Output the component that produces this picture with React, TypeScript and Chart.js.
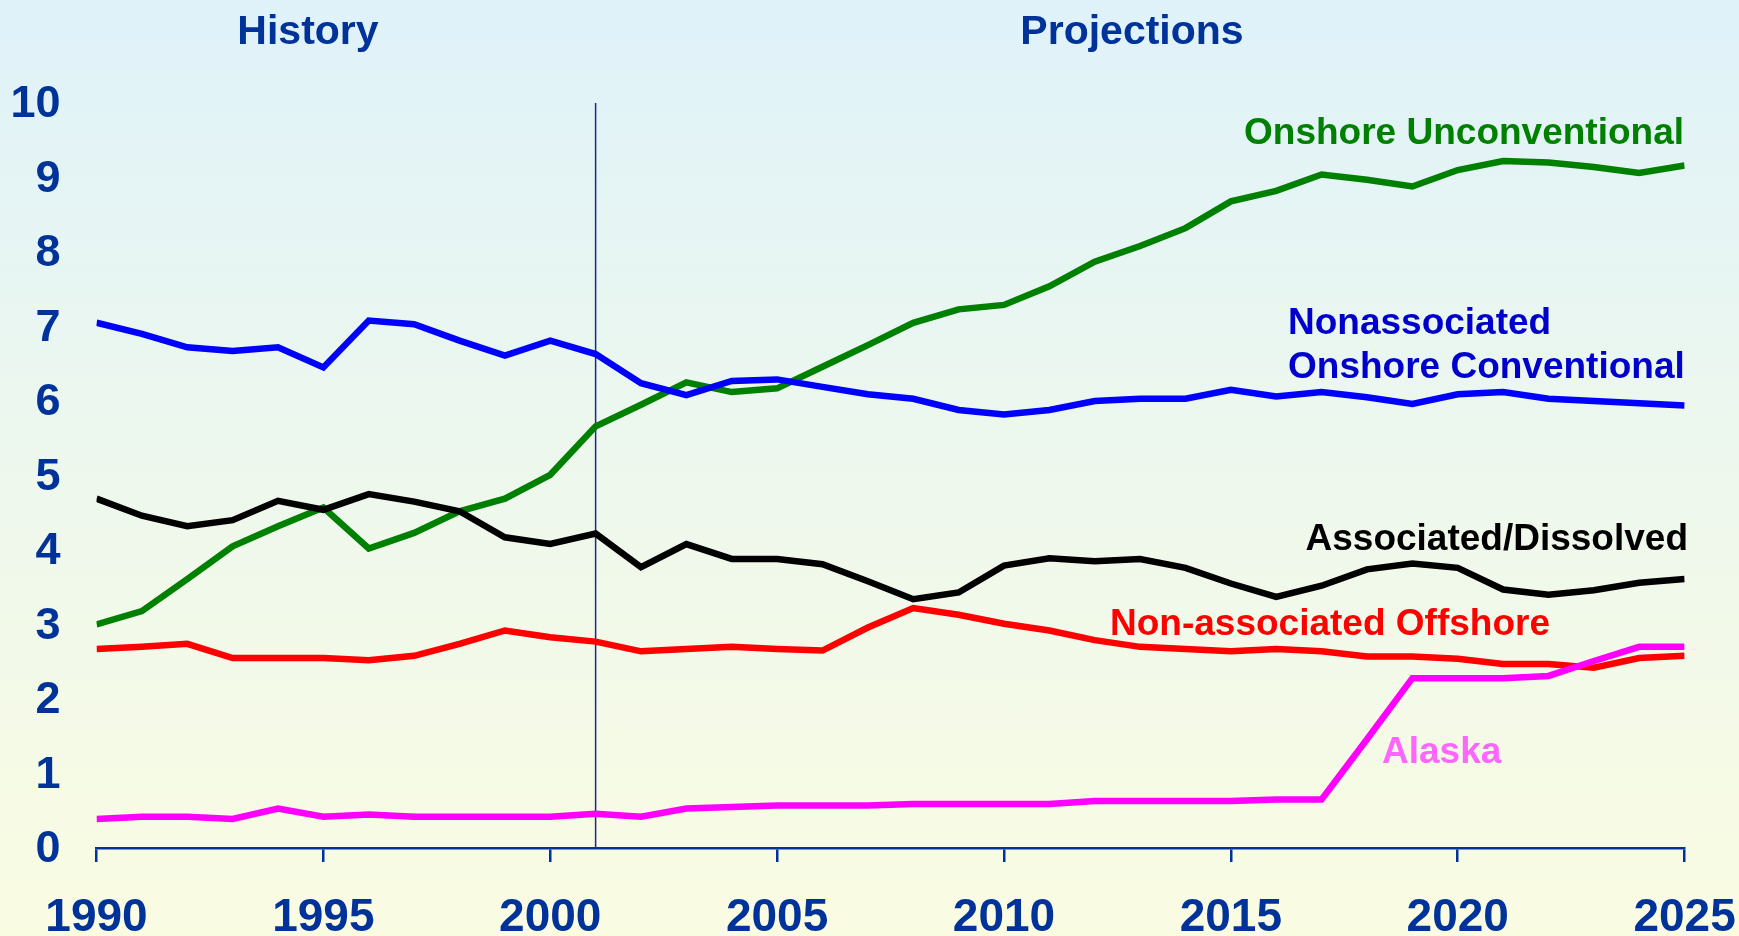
import React, { useEffect, useRef } from "react";
import { Chart, registerables } from "chart.js";

Chart.register(...registerables);

const years = [
  1990, 1991, 1992, 1993, 1994, 1995, 1996, 1997, 1998, 1999,
  2000, 2001, 2002, 2003, 2004, 2005, 2006, 2007, 2008, 2009,
  2010, 2011, 2012, 2013, 2014, 2015, 2016, 2017, 2018, 2019,
  2020, 2021, 2022, 2023, 2024, 2025,
];

const onshoreUnconventional = [
  3.0, 3.18, 3.61, 4.05, 4.32, 4.57, 4.02, 4.23, 4.52, 4.69,
  5.01, 5.66, 5.95, 6.25, 6.12, 6.17, 6.46, 6.75, 7.05, 7.23,
  7.29, 7.54, 7.87, 8.08, 8.32, 8.68, 8.82, 9.04, 8.97, 8.88,
  9.1, 9.22, 9.2, 9.14, 9.06, 9.16,
];

const nonassocOnshoreConventional = [
  7.05, 6.9, 6.72, 6.67, 6.72, 6.45, 7.08, 7.03, 6.81, 6.61,
  6.81, 6.63, 6.24, 6.08, 6.27, 6.29, 6.19, 6.09, 6.03, 5.88,
  5.82, 5.88, 6.0, 6.03, 6.03, 6.15, 6.06, 6.12, 6.05, 5.96,
  6.09, 6.12, 6.03, 6.0, 5.97, 5.94,
];

const associatedDissolved = [
  4.69, 4.46, 4.32, 4.4, 4.66, 4.54, 4.75, 4.65, 4.52, 4.17,
  4.08, 4.22, 3.77, 4.08, 3.88, 3.88, 3.81, 3.58, 3.34, 3.43,
  3.79, 3.89, 3.85, 3.88, 3.76, 3.55, 3.37, 3.52, 3.74, 3.82,
  3.76, 3.47, 3.4, 3.46, 3.56, 3.61,
];

const nonassocOffshore = [
  2.67, 2.7, 2.74, 2.55, 2.55, 2.55, 2.52, 2.58, 2.74, 2.92,
  2.83, 2.77, 2.64, 2.67, 2.7, 2.67, 2.65, 2.96, 3.22, 3.13,
  3.01, 2.92, 2.79, 2.7, 2.67, 2.64, 2.67, 2.64, 2.57, 2.57,
  2.54, 2.47, 2.47, 2.42, 2.55, 2.58,
];

const alaska = [
  0.39, 0.42, 0.42, 0.39, 0.53, 0.42, 0.45, 0.42, 0.42, 0.42,
  0.42, 0.46, 0.42, 0.53, 0.55, 0.57, 0.57, 0.57, 0.59, 0.59,
  0.59, 0.59, 0.63, 0.63, 0.63, 0.63, 0.65, 0.65, 1.46, 2.28,
  2.28, 2.28, 2.31, 2.51, 2.7, 2.7,
];

const xTickYears = [1990, 1995, 2000, 2005, 2010, 2015, 2020, 2025];
const yTickValues = [0, 1, 2, 3, 4, 5, 6, 7, 8, 9, 10];
const dividerYear = 2001;

const FONT = "'Liberation Sans', Arial, sans-serif";
const NAVY = "#003399";

const overlayPlugin = {
  id: "overlay",
  beforeDatasetsDraw(chart: any) {
    const { ctx, scales } = chart;
    const x = scales.x.getPixelForValue(dividerYear);
    ctx.save();
    ctx.strokeStyle = "#1a2a8c";
    ctx.lineWidth = 1.5;
    ctx.beginPath();
    ctx.moveTo(x, scales.y.getPixelForValue(0));
    ctx.lineTo(x, scales.y.getPixelForValue(10));
    ctx.stroke();
    ctx.restore();
  },
  afterDraw(chart: any) {
    const { ctx } = chart;
    ctx.save();
    ctx.textBaseline = "middle";
    ctx.font = `bold 41px ${FONT}`;
    ctx.fillStyle = NAVY;
    ctx.textAlign = "center";
    ctx.fillText("History", 308, 33);
    ctx.fillText("Projections", 1132, 33);

    ctx.font = `bold 37px ${FONT}`;
    const put = (text: string, x: number, y: number, color: string, align: CanvasTextAlign) => {
      ctx.fillStyle = color;
      ctx.textAlign = align;
      ctx.fillText(text, x, y);
    };
    put("Onshore Unconventional", 1684, 134, "#008000", "right");
    put("Nonassociated", 1288, 324, "#0000CC", "left");
    put("Onshore Conventional", 1288, 368, "#0000CC", "left");
    put("Associated/Dissolved", 1688, 540, "#000000", "right");
    put("Non-associated Offshore", 1110, 625, "#FF0000", "left");
    put("Alaska", 1382, 753, "#FF66FF", "left");
    ctx.restore();
  },
};

export default function App() {
  const ref = useRef<HTMLCanvasElement>(null);

  useEffect(() => {
    document.body.style.margin = "0";
    const toXY = (vals: number[]) => vals.map((v, i) => ({ x: years[i], y: v }));
    const ds = (label: string, vals: number[], color: string) => ({
      label,
      data: toXY(vals),
      borderColor: color,
      backgroundColor: color,
      borderWidth: 6.5,
      pointRadius: 0,
      tension: 0,
      fill: false,
    });
    const chart = new Chart(ref.current!, {
      type: "line",
      data: {
        datasets: [
          ds("Alaska", alaska, "#FF00FF"),
          ds("Non-associated Offshore", nonassocOffshore, "#FF0000"),
          ds("Associated/Dissolved", associatedDissolved, "#000000"),
          ds("Nonassociated Onshore Conventional", nonassocOnshoreConventional, "#0000FF"),
          ds("Onshore Unconventional", onshoreUnconventional, "#008000"),
        ],
      },
      options: {
        animation: false,
        responsive: false,
        maintainAspectRatio: false,
        layout: { padding: { top: 103, right: 54.4, left: 0, bottom: 0 } },
        plugins: {
          legend: { display: false },
          title: { display: false },
          tooltip: { enabled: false },
        },
        scales: {
          x: {
            type: "linear",
            min: 1990,
            max: 2025,
            afterBuildTicks: (scale: any) => {
              scale.ticks = xTickYears.map((v) => ({ value: v }));
            },
            afterFit: (scale: any) => {
              scale.height = 88;
              scale.paddingRight = 0;
              scale.paddingLeft = 0;
            },
            grid: {
              display: true,
              drawOnChartArea: false,
              drawTicks: true,
              tickLength: 14,
              color: NAVY,
              lineWidth: 2.5,
            },
            border: { display: true, color: NAVY, width: 2.5 },
            ticks: {
              color: NAVY,
              font: { family: FONT, size: 46, weight: "bold" },
              padding: 29,
              maxRotation: 0,
              autoSkip: false,
              callback: (v: any) => String(v),
            },
          },
          y: {
            min: 0,
            max: 10,
            afterBuildTicks: (scale: any) => {
              scale.ticks = yTickValues.map((v) => ({ value: v }));
            },
            afterFit: (scale: any) => {
              scale.width = 96.5;
              scale.paddingTop = 0;
              scale.paddingBottom = 0;
            },
            grid: { display: false },
            border: { display: false },
            ticks: {
              color: NAVY,
              font: { family: FONT, size: 45, weight: "bold" },
              padding: 28,
              labelOffset: 2,
            },
          },
        },
      },
      plugins: [overlayPlugin],
    } as any);
    return () => chart.destroy();
  }, []);

  return (
    <div
      style={{
        width: 1739,
        height: 936,
        background: "linear-gradient(to bottom, #DFF2FA 0%, #ECF7EE 45%, #FAFCE2 100%)",
      }}
    >
      <canvas ref={ref} width={1739} height={936} style={{ display: "block" }} />
    </div>
  );
}
